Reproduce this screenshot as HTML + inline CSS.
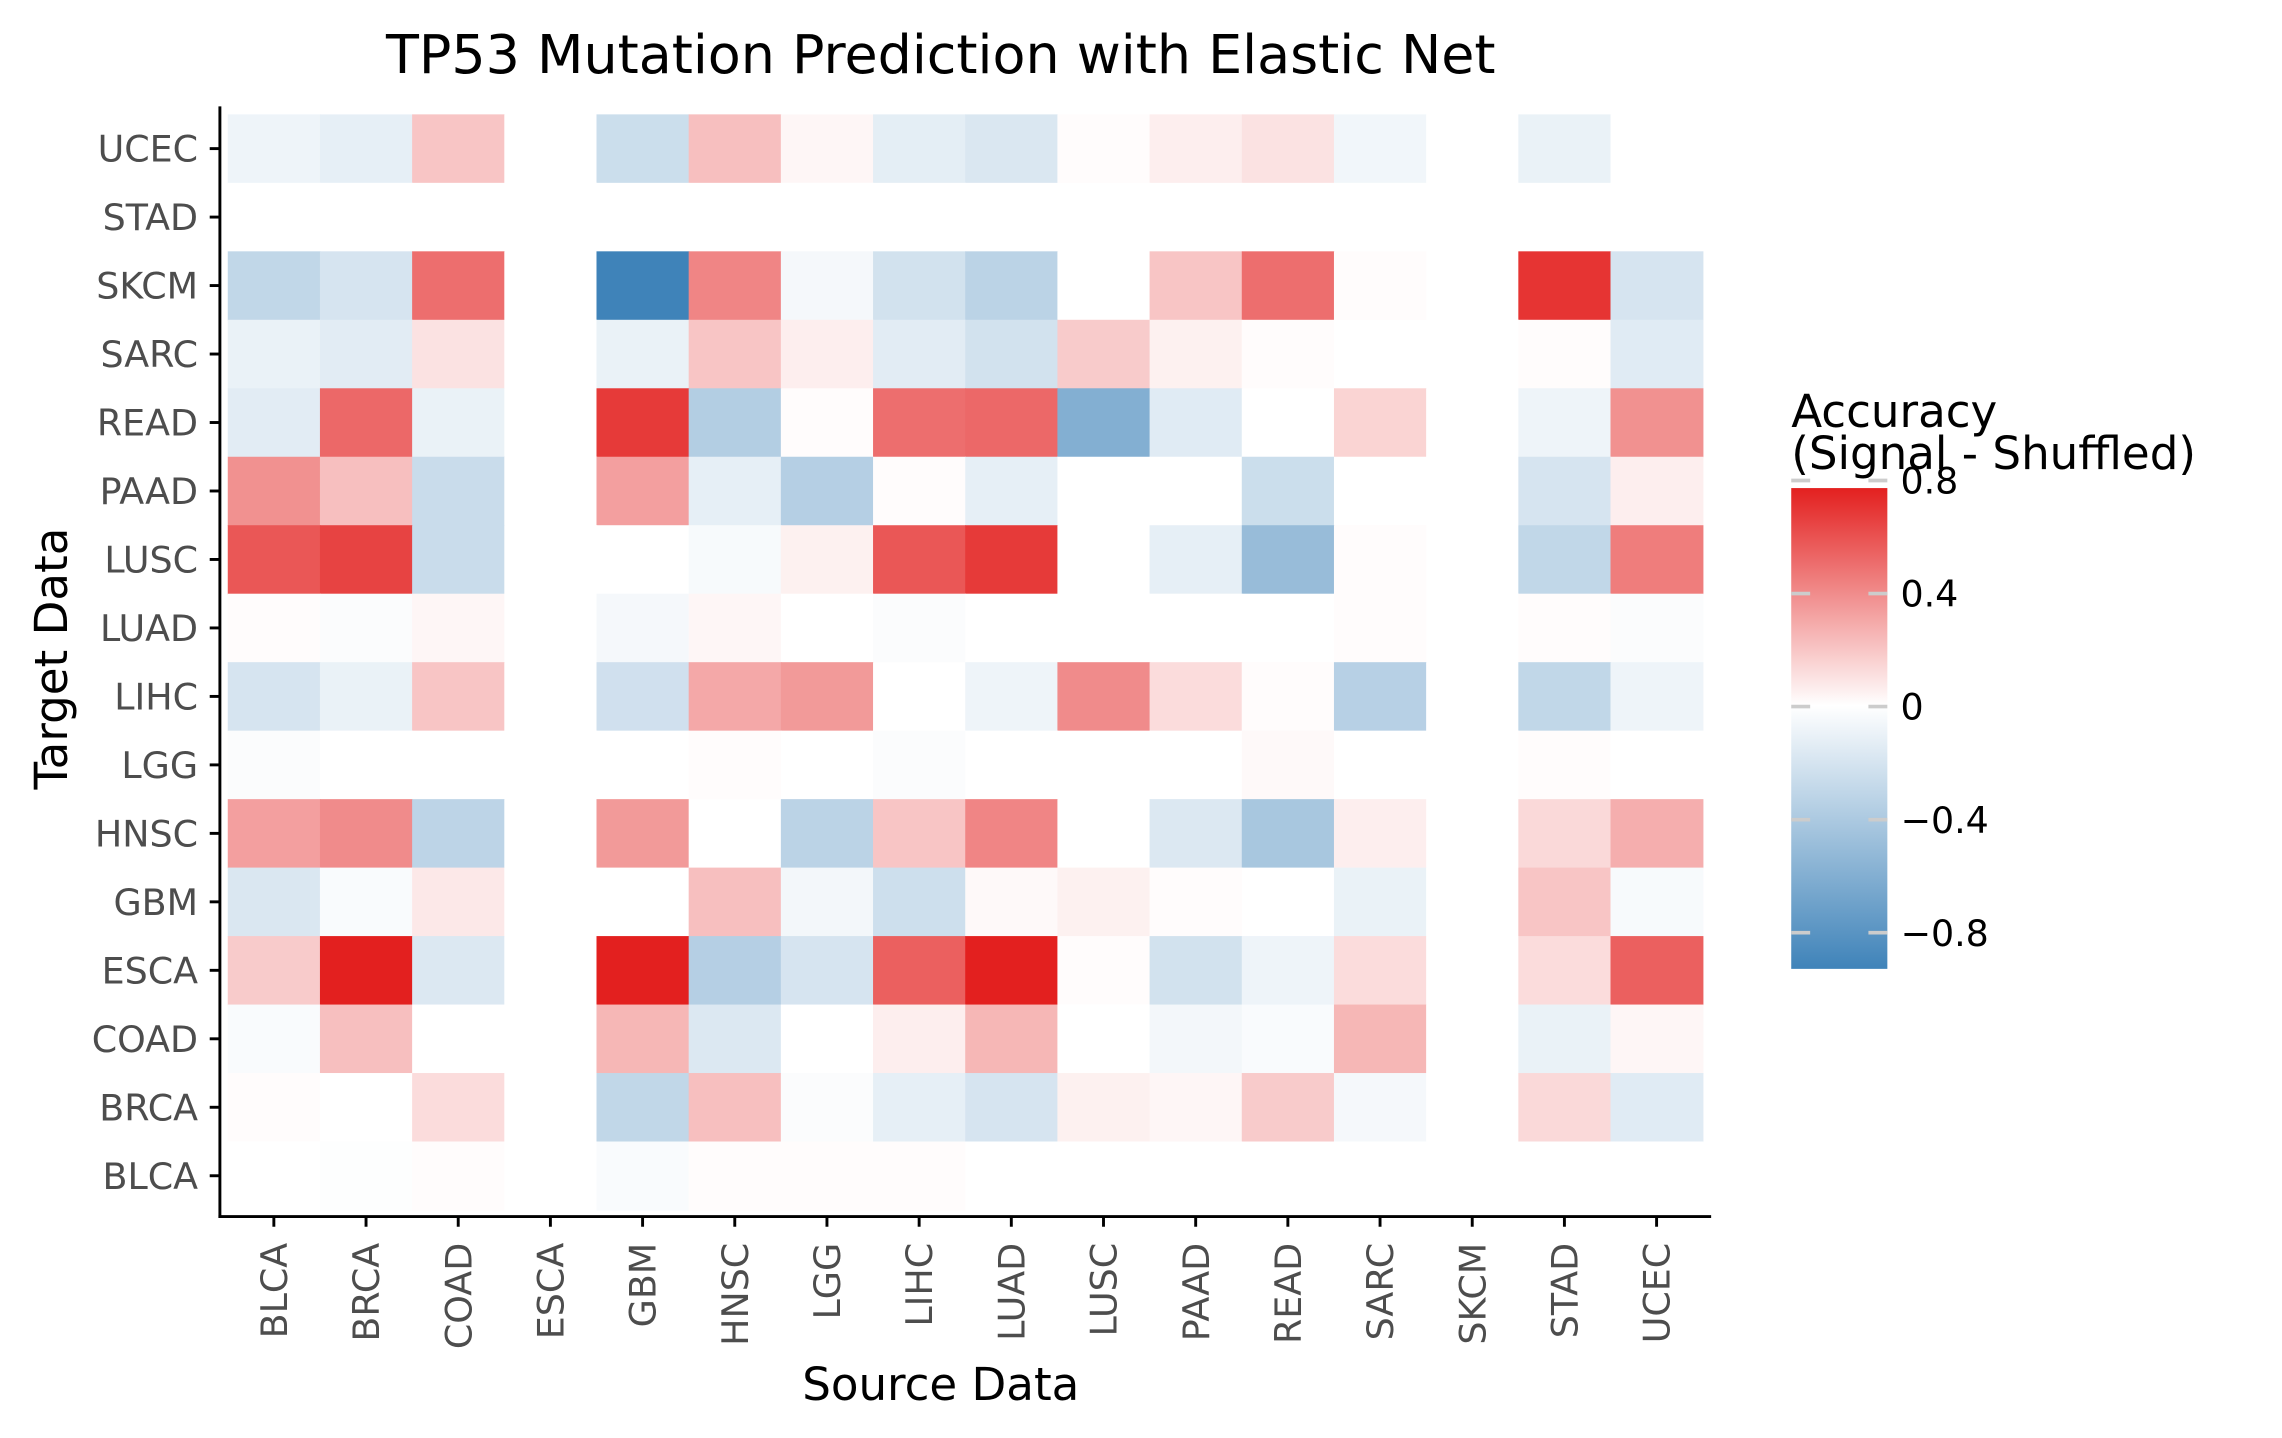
<!DOCTYPE html>
<html><head><meta charset="utf-8"><style>
html,body{margin:0;padding:0;background:#fff;}
svg{display:block;font-family:"DejaVu Sans","Liberation Sans",sans-serif;}
</style></head><body>
<svg id="chart" width="2282" height="1438" viewBox="0 0 1567 987" preserveAspectRatio="none" xmlns="http://www.w3.org/2000/svg">
<defs>
<linearGradient id="cbg" x1="0" y1="1" x2="0" y2="0">
<stop offset="0" stop-color="#3f83b9"/>
<stop offset="0.547" stop-color="#ffffff"/>
<stop offset="1" stop-color="#e3201f"/>
</linearGradient>
</defs>
<text x="646" y="50" text-anchor="middle" font-size="37" fill="#000">TP53 Mutation Prediction with Elastic Net</text>
<g id="cells"></g>
<g id="axes"></g>
<text transform="translate(46,452) rotate(-90)" text-anchor="middle" font-size="31" fill="#000">Target Data</text>
<text x="646" y="961" text-anchor="middle" font-size="31" fill="#000">Source Data</text>
<g>
<text font-size="31" fill="#000"><tspan x="1230" y="293">Accuracy</tspan><tspan x="1230" y="322">(Signal - Shuffled)</tspan></text>
<rect x="1230" y="335" width="66" height="330" fill="url(#cbg)"/>
<g id="cbticks"></g>
</g>
</svg>
<script>
const sources = ["BLCA","BRCA","COAD","ESCA","GBM","HNSC","LGG","LIHC","LUAD","LUSC","PAAD","READ","SARC","SKCM","STAD","UCEC"];
const targets = ["UCEC","STAD","SKCM","SARC","READ","PAAD","LUSC","LUAD","LIHC","LGG","HNSC","GBM","ESCA","COAD","BRCA","BLCA"];
const rowUCEC = [-0.08,-0.12,0.2,0,-0.25,0.22,0.03,-0.13,-0.18,0.01,0.06,0.1,-0.07,0,-0.1,0];
const rowSTAD = [0,0,0,0,0,0,0,0,0,0,0,0,0,0,0,0];
const rowSKCM = [-0.3,-0.2,0.5,0,-0.93,0.42,-0.05,-0.22,-0.33,0,0.2,0.5,0.01,0,0.7,-0.2];
const rowSARC = [-0.1,-0.14,0.1,0,-0.1,0.2,0.06,-0.14,-0.22,0.18,0.05,0.01,0,0,0.01,-0.15];
const rowREAD = [-0.14,0.52,-0.1,0,0.68,-0.37,0.01,0.5,0.52,-0.6,-0.15,0,0.15,0,-0.08,0.38];
const rowPAAD = [0.38,0.22,-0.26,0,0.33,-0.12,-0.36,0.01,-0.12,0,0,-0.25,0,0,-0.2,0.06];
const rowLUSC = [0.58,0.65,-0.26,0,0,-0.04,0.05,0.58,0.68,0,-0.12,-0.5,0.01,0,-0.3,0.45];
const rowLUAD = [0.01,-0.02,0.03,0,-0.05,0.03,0,-0.02,0,0,0,0,0.01,0,0.01,-0.02];
const rowLIHC = [-0.2,-0.1,0.2,0,-0.23,0.3,0.35,0,-0.08,0.4,0.12,0.01,-0.35,0,-0.3,-0.08];
const rowLGG = [-0.02,0,0,0,0,0.01,0,-0.02,0,0,0,0.02,0,0,0.01,0];
const rowHNSC = [0.33,0.4,-0.32,0,0.35,0,-0.33,0.2,0.42,0,-0.17,-0.42,0.06,0,0.13,0.28];
const rowGBM = [-0.18,-0.03,0.08,0,0,0.22,-0.06,-0.24,0.02,0.05,0.01,0,-0.1,0,0.2,-0.04];
const rowESCA = [0.18,0.77,-0.17,0,0.77,-0.36,-0.2,0.55,0.77,0.01,-0.22,-0.08,0.12,0,0.12,0.55];
const rowCOAD = [-0.03,0.22,0,0,0.25,-0.17,0,0.06,0.25,0,-0.06,-0.03,0.25,0,-0.1,0.03];
const rowBRCA = [0.01,0,0.12,0,-0.3,0.22,-0.02,-0.12,-0.2,0.05,0.03,0.18,-0.05,0,0.13,-0.15];
const rowBLCA = [0,-0.01,0.01,0,-0.03,0.01,0.01,0.01,0,0,0,0,0,0,0,0];
const values = [rowUCEC,rowSTAD,rowSKCM,rowSARC,rowREAD,rowPAAD,rowLUSC,rowLUAD,rowLIHC,rowLGG,rowHNSC,rowGBM,rowESCA,rowCOAD,rowBRCA,rowBLCA];
const legendTicks = [0.8,0.4,0,-0.4,-0.8];
const legendTickLabels = ["0.8","0.4","0","\u22120.4","\u22120.8"];

const NS="http://www.w3.org/2000/svg";
const X0=156.4, CW=63.3, Y0=78.5, RH=47;
const vmax=0.77, vmin=-0.93;
function xPos(i){return X0+i*CW;}
function yPos(j){return Y0+j*RH;}
function color(v){
  let r,g,b;
  if(v>=0){const t=Math.min(1,v/vmax);r=255-(255-227)*t;g=255-(255-32)*t;b=255-(255-31)*t;}
  else{const t=Math.min(1,v/vmin);r=255-(255-63)*t;g=255-(255-131)*t;b=255-(255-185)*t;}
  return `rgb(${Math.round(r)},${Math.round(g)},${Math.round(b)})`;
}
function cbY(v){return 485-v*194;}
const cells=document.getElementById('cells');
values.forEach((row,j)=>{row.forEach((v,i)=>{
  const r=document.createElementNS(NS,'rect');
  
  
  r.setAttribute('x',xPos(i));r.setAttribute('y',yPos(j));
  r.setAttribute('width',CW+0.5);r.setAttribute('height',RH+0.5);
  r.setAttribute('fill',color(v));
  cells.appendChild(r);
});});
const axes=document.getElementById('axes');
function line(x1,y1,x2,y2,name){
  const l=document.createElementNS(NS,'line');
  
  
  l.setAttribute('x1',x1);l.setAttribute('y1',y1);l.setAttribute('x2',x2);l.setAttribute('y2',y2);
  l.setAttribute('stroke','#000');l.setAttribute('stroke-width','2');
  axes.appendChild(l);
}
line(151,73,151,836,'y-axis-line');
line(150,835,1175,835,'x-axis-line');
targets.forEach((t,j)=>{
  const y=yPos(j)+RH/2;
  line(144,y,151,y,'y-tick');
  const tx=document.createElementNS(NS,'text');
  
  
  tx.setAttribute('x',136);tx.setAttribute('y',y+9);
  tx.setAttribute('text-anchor','end');tx.setAttribute('font-size','25');tx.setAttribute('fill','#4d4d4d');
  tx.textContent=t;axes.appendChild(tx);
});
sources.forEach((s,i)=>{
  const x=xPos(i)+CW/2;
  line(x,835,x,842,'x-tick');
  const tx=document.createElementNS(NS,'text');
  
  
  tx.setAttribute('transform',`translate(${x+9},853) rotate(-90)`);
  tx.setAttribute('text-anchor','end');tx.setAttribute('font-size','25');tx.setAttribute('fill','#4d4d4d');
  tx.textContent=s;axes.appendChild(tx);
});
const cbt=document.getElementById('cbticks');
legendTicks.forEach((v,k)=>{
  const y=cbY(v);
  [[1230,1243],[1283,1296]].forEach(p=>{
    const l=document.createElementNS(NS,'line');
    
    
    l.setAttribute('x1',p[0]);l.setAttribute('x2',p[1]);l.setAttribute('y1',y);l.setAttribute('y2',y);
    l.setAttribute('stroke','#cccccc');l.setAttribute('stroke-width','2.5');
    cbt.appendChild(l);
  });
  const tx=document.createElementNS(NS,'text');
  
  
  tx.setAttribute('x',1305);tx.setAttribute('y',y+9);
  tx.setAttribute('font-size','25');tx.setAttribute('fill','#000');
  tx.textContent=legendTickLabels[k];cbt.appendChild(tx);
});
</script>
</body></html>
